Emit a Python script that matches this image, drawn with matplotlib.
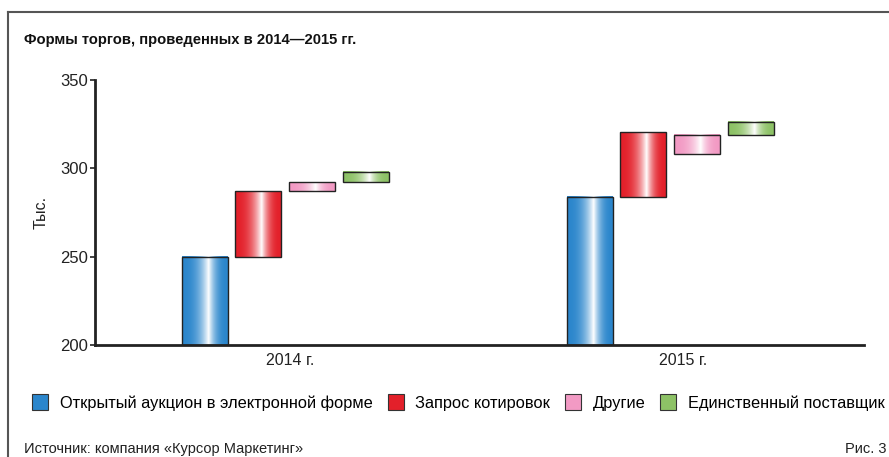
import matplotlib
matplotlib.use('Agg')
import matplotlib.pyplot as plt
import numpy as np
from matplotlib.patches import Rectangle
from matplotlib.lines import Line2D
from matplotlib.colors import to_rgb

plt.rcParams['font.family'] = ['Liberation Sans', 'DejaVu Sans']

years = ['2014 г.', '2015 г.']
categories = ['Открытый аукцион в электронной форме', 'Запрос котировок',
              'Другие', 'Единственный поставщик']
colors = ['#2b86cc', '#e3202a', '#f29ac4', '#8dc266']
# нижняя и верхняя граница каждого блока, тыс.
bottoms = [[200, 200], [250, 284], [287, 308], [292, 318.6]]
tops = [[250, 284], [287, 320.5], [292, 319], [298, 326.4]]

fig = plt.figure(figsize=(8.89, 4.57), dpi=100)
ax = fig.add_axes([0.1069, 0.245, 0.972 - 0.1069, 0.825 - 0.245])

step = 0.1395
width = 0.1195
offsets = (np.arange(len(categories)) - 1.5) * step

# горизонтальный градиент: цвет по краям, белая полоса ближе к центру
t = np.linspace(0, 1, 200)
peak = 0.58
w = np.where(t < peak, t / peak, (1 - t) / (1 - peak))
w = w ** 2.5

for j, cat in enumerate(categories):
    c = np.array(to_rgb(colors[j]))
    grad = c[None, :] * (1 - w[:, None]) + w[:, None]
    img = grad[None, :, :]
    for i in range(len(years)):
        x0 = i + offsets[j] - width / 2
        b, tp = bottoms[j][i], tops[j][i]
        ax.imshow(img, extent=[x0, x0 + width, b, tp], aspect='auto',
                  interpolation='bilinear', zorder=2)
        ax.add_patch(Rectangle((x0, b), width, tp - b, fill=False,
                               edgecolor='#222222', lw=1.0, zorder=3))

ax.set_xlim(-0.494, 1.504)
ax.set_ylim(200, 350)
ax.set_yticks([200, 250, 300, 350])
ax.set_xticks([0.012, 1.035])
ax.set_xticklabels(years)
ax.tick_params(axis='x', length=0, labelsize=11.5, pad=6, colors='#222222')
ax.tick_params(axis='y', length=3.5, width=1.2, labelsize=12, pad=1.5,
               colors='#222222')
for s in ['top', 'right']:
    ax.spines[s].set_visible(False)
for s in ['left', 'bottom']:
    ax.spines[s].set_linewidth(2)
    ax.spines[s].set_color('#222222')
ax.set_ylabel('Тыс.', fontsize=11.5, color='#222222', labelpad=8)

handles = [Line2D([], [], marker='s', linestyle='', markersize=11,
                  markerfacecolor=c, markeredgecolor='#333333',
                  markeredgewidth=0.8) for c in colors]
fig.legend(handles, categories, loc='center left',
           bbox_to_anchor=(0.025, 1 - 403 / 457), ncol=4, frameon=False,
           fontsize=11.8, handletextpad=0.6, columnspacing=0.8,
           borderpad=0, handlelength=1.2)

fig.text(0.027, 1 - 40 / 457, 'Формы торгов, проведенных в 2014—2015 гг.',
         fontsize=10.6, fontweight='bold', va='center', color='#111111')
fig.text(0.027, 1 - 449 / 457, 'Источник: компания «Курсор Маркетинг»',
         fontsize=10.5, va='center', color='#222222')
fig.text(0.997, 1 - 449 / 457, 'Рис. 3', fontsize=10.5, va='center',
         ha='right', color='#222222')

# рамка
fig.add_artist(Line2D([0.009, 1.0], [1 - 12 / 457, 1 - 12 / 457],
                      color='#555555', lw=1.5, transform=fig.transFigure))
fig.add_artist(Line2D([0.009, 0.009], [0, 1 - 12 / 457],
                      color='#555555', lw=1.5, transform=fig.transFigure))

fig.savefig('out.png', dpi=100)
